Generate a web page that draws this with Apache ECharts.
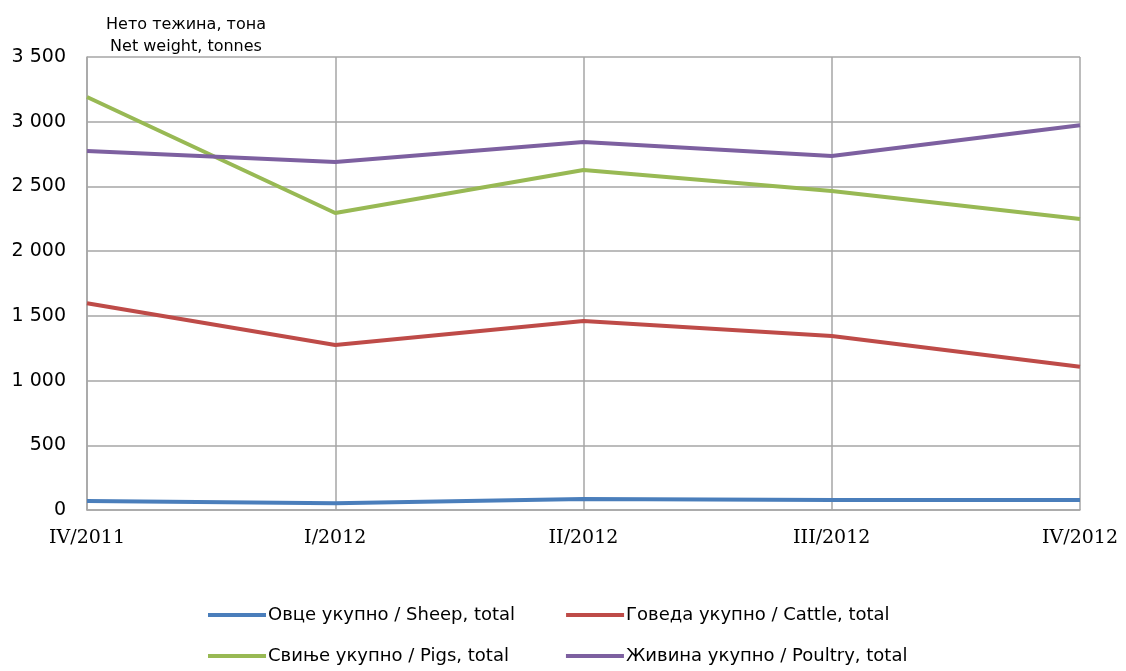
<!DOCTYPE html>
<html>
<head>
<meta charset="utf-8">
<script src="https://cdn.jsdelivr.net/npm/echarts@6/dist/echarts.min.js"></script>
<style>
  html, body { margin: 0; padding: 0; background: #fff; }
  #chart { width: 1126px; height: 671px; }
</style>
</head>
<body>
<div id="chart"></div>
<script>
const categories = ['IV/2011', 'I/2012', 'II/2012', 'III/2012', 'IV/2012']
const sheep = [70, 52, 85, 77, 77]
const cattle = [1597, 1275, 1460, 1344, 1107]
const pigs = [3191, 2295, 2627, 2465, 2249]
const poultry = [2774, 2689, 2843, 2735, 2973]
const seriesNames = [
    'Овце укупно / Sheep, total',
    'Говеда укупно / Cattle, total',
    'Свиње укупно / Pigs, total',
    'Живина укупно / Poultry, total'
]
const colors = ['#4a7ebb', '#be4b48', '#98b954', '#7d60a0']

let chart = echarts.init(document.getElementById('chart'))

function line(name, data, color) {
    return {
        name: name,
        type: 'line',
        data: data,
        symbol: 'none',
        lineStyle: { width: 4, color: color },
        itemStyle: { color: color }
    }
}

const legendText = { fontFamily: 'DejaVu Sans', fontSize: 18, color: '#000', padding: [0, 0, 0, -3] }

chart.setOption({
    animation: false,
    title: {
        text: 'Нето тежина, тона\nNet weight, tonnes',
        left: 181,
        textAlign: 'center',
        top: 9,
        textStyle: { fontFamily: 'DejaVu Sans', fontSize: 16, fontWeight: 'normal', color: '#000', lineHeight: 22 }
    },
    legend: [
        {
            data: [seriesNames[0], seriesNames[1]],
            left: 208, top: 606, padding: 0, itemWidth: 58, itemHeight: 4, itemGap: 51,
            icon: 'rect',
            textStyle: legendText
        },
        {
            data: [seriesNames[2], seriesNames[3]],
            left: 208, top: 647, padding: 0, itemWidth: 58, itemHeight: 4, itemGap: 57,
            icon: 'rect',
            textStyle: legendText
        }
    ],
    grid: { left: 87, right: 46, top: 57, bottom: 161 },
    xAxis: {
        type: 'category',
        boundaryGap: false,
        data: categories,
        axisLine: { lineStyle: { color: '#a6a6a6', width: 1.5 } },
        axisTick: { show: false },
        axisLabel: { fontFamily: 'DejaVu Serif', fontSize: 19, color: '#000', margin: 19 },
        splitLine: { show: true, lineStyle: { color: '#a6a6a6', width: 1.5 } }
    },
    yAxis: {
        type: 'value',
        min: 0,
        max: 3500,
        interval: 500,
        axisLine: { show: true, lineStyle: { color: '#a6a6a6', width: 1.5 } },
        axisTick: { show: false },
        axisLabel: {
            fontFamily: 'DejaVu Sans',
            fontSize: 19,
            color: '#000',
            margin: 21,
            formatter: v => String(v).replace(/\B(?=(\d{3})+(?!\d))/g, ' ')
        },
        splitLine: { lineStyle: { color: '#a6a6a6', width: 1.5 } }
    },
    series: [
        line(seriesNames[0], sheep, colors[0]),
        line(seriesNames[1], cattle, colors[1]),
        line(seriesNames[2], pigs, colors[2]),
        line(seriesNames[3], poultry, colors[3])
    ]
})

window.addEventListener('resize', () => {
    chart.resize()
})
</script>
</body>
</html>
